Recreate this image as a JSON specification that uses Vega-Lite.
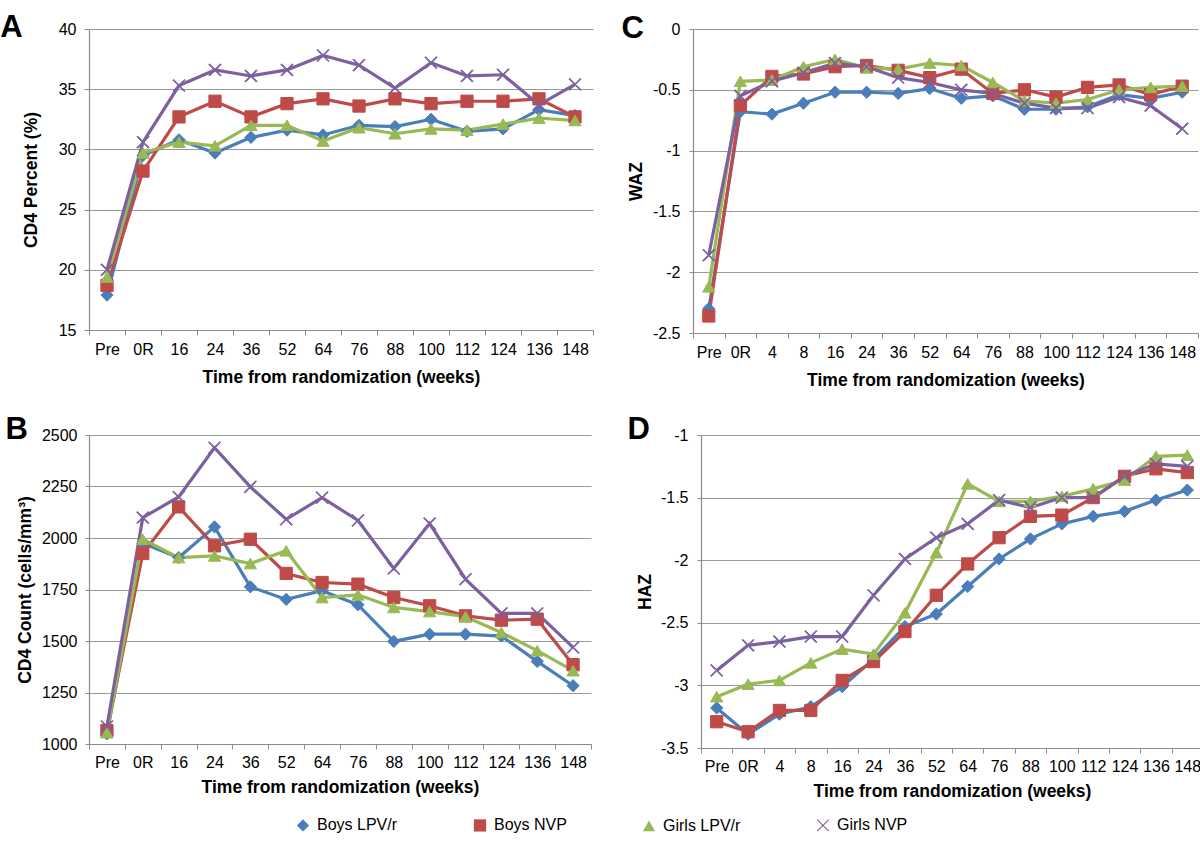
{
  "$schema": "https://vega.github.io/schema/vega-lite/v6.json",
  "padding": {"left": 0, "top": 12, "right": 0, "bottom": 0},
  "datasets": {
    "d": [
      {"p": "A", "t": "Pre", "Boys LPV/r": 17.9, "Boys NVP": 18.7, "Girls LPV/r": 19.4, "Girls NVP": 20.0},
      {"p": "A", "t": "0R", "Boys LPV/r": 29.5, "Boys NVP": 28.2, "Girls LPV/r": 29.7, "Girls NVP": 30.6},
      {"p": "A", "t": "16", "Boys LPV/r": 30.8, "Boys NVP": 32.7, "Girls LPV/r": 30.6, "Girls NVP": 35.3},
      {"p": "A", "t": "24", "Boys LPV/r": 29.7, "Boys NVP": 34.0, "Girls LPV/r": 30.3, "Girls NVP": 36.6},
      {"p": "A", "t": "36", "Boys LPV/r": 31.0, "Boys NVP": 32.7, "Girls LPV/r": 32.0, "Girls NVP": 36.1},
      {"p": "A", "t": "52", "Boys LPV/r": 31.6, "Boys NVP": 33.8, "Girls LPV/r": 32.0, "Girls NVP": 36.6},
      {"p": "A", "t": "64", "Boys LPV/r": 31.2, "Boys NVP": 34.2, "Girls LPV/r": 30.7, "Girls NVP": 37.8},
      {"p": "A", "t": "76", "Boys LPV/r": 32.0, "Boys NVP": 33.6, "Girls LPV/r": 31.8, "Girls NVP": 37.0},
      {"p": "A", "t": "88", "Boys LPV/r": 31.9, "Boys NVP": 34.2, "Girls LPV/r": 31.3, "Girls NVP": 35.1},
      {"p": "A", "t": "100", "Boys LPV/r": 32.5, "Boys NVP": 33.8, "Girls LPV/r": 31.7, "Girls NVP": 37.2},
      {"p": "A", "t": "112", "Boys LPV/r": 31.5, "Boys NVP": 34.0, "Girls LPV/r": 31.6, "Girls NVP": 36.1},
      {"p": "A", "t": "124", "Boys LPV/r": 31.7, "Boys NVP": 34.0, "Girls LPV/r": 32.1, "Girls NVP": 36.2},
      {"p": "A", "t": "136", "Boys LPV/r": 33.3, "Boys NVP": 34.2, "Girls LPV/r": 32.6, "Girls NVP": 33.7},
      {"p": "A", "t": "148", "Boys LPV/r": 32.8, "Boys NVP": 32.7, "Girls LPV/r": 32.4, "Girls NVP": 35.4},

      {"p": "C", "t": "Pre", "Boys LPV/r": -2.3, "Boys NVP": -2.36, "Girls LPV/r": -2.12, "Girls NVP": -1.86},
      {"p": "C", "t": "0R", "Boys LPV/r": -0.68, "Boys NVP": -0.63, "Girls LPV/r": -0.43, "Girls NVP": -0.55},
      {"p": "C", "t": "4", "Boys LPV/r": -0.70, "Boys NVP": -0.39, "Girls LPV/r": -0.42, "Girls NVP": -0.43},
      {"p": "C", "t": "8", "Boys LPV/r": -0.61, "Boys NVP": -0.37, "Girls LPV/r": -0.31, "Girls NVP": -0.36},
      {"p": "C", "t": "16", "Boys LPV/r": -0.52, "Boys NVP": -0.31, "Girls LPV/r": -0.25, "Girls NVP": -0.28},
      {"p": "C", "t": "24", "Boys LPV/r": -0.52, "Boys NVP": -0.30, "Girls LPV/r": -0.32, "Girls NVP": -0.31},
      {"p": "C", "t": "36", "Boys LPV/r": -0.53, "Boys NVP": -0.34, "Girls LPV/r": -0.33, "Girls NVP": -0.40},
      {"p": "C", "t": "52", "Boys LPV/r": -0.49, "Boys NVP": -0.40, "Girls LPV/r": -0.28, "Girls NVP": -0.44},
      {"p": "C", "t": "64", "Boys LPV/r": -0.57, "Boys NVP": -0.33, "Girls LPV/r": -0.30, "Girls NVP": -0.50},
      {"p": "C", "t": "76", "Boys LPV/r": -0.55, "Boys NVP": -0.53, "Girls LPV/r": -0.44, "Girls NVP": -0.53},
      {"p": "C", "t": "88", "Boys LPV/r": -0.66, "Boys NVP": -0.50, "Girls LPV/r": -0.59, "Girls NVP": -0.61},
      {"p": "C", "t": "100", "Boys LPV/r": -0.66, "Boys NVP": -0.56, "Girls LPV/r": -0.61, "Girls NVP": -0.65},
      {"p": "C", "t": "112", "Boys LPV/r": -0.64, "Boys NVP": -0.48, "Girls LPV/r": -0.58, "Girls NVP": -0.65},
      {"p": "C", "t": "124", "Boys LPV/r": -0.54, "Boys NVP": -0.46, "Girls LPV/r": -0.50, "Girls NVP": -0.56},
      {"p": "C", "t": "136", "Boys LPV/r": -0.57, "Boys NVP": -0.54, "Girls LPV/r": -0.48, "Girls NVP": -0.63},
      {"p": "C", "t": "148", "Boys LPV/r": -0.52, "Boys NVP": -0.47, "Girls LPV/r": -0.47, "Girls NVP": -0.82},

      {"p": "B", "t": "Pre", "Boys LPV/r": 1049, "Boys NVP": 1065, "Girls LPV/r": 1055, "Girls NVP": 1085},
      {"p": "B", "t": "0R", "Boys LPV/r": 1975, "Boys NVP": 1925, "Girls LPV/r": 1994, "Girls NVP": 2099},
      {"p": "B", "t": "16", "Boys LPV/r": 1905, "Boys NVP": 2151, "Girls LPV/r": 1905, "Girls NVP": 2199},
      {"p": "B", "t": "24", "Boys LPV/r": 2054, "Boys NVP": 1962, "Girls LPV/r": 1913, "Girls NVP": 2438},
      {"p": "B", "t": "36", "Boys LPV/r": 1763, "Boys NVP": 1994, "Girls LPV/r": 1876, "Girls NVP": 2248},
      {"p": "B", "t": "52", "Boys LPV/r": 1702, "Boys NVP": 1828, "Girls LPV/r": 1938, "Girls NVP": 2091},
      {"p": "B", "t": "64", "Boys LPV/r": 1744, "Boys NVP": 1784, "Girls LPV/r": 1711, "Girls NVP": 2196},
      {"p": "B", "t": "76", "Boys LPV/r": 1676, "Boys NVP": 1776, "Girls LPV/r": 1724, "Girls NVP": 2085},
      {"p": "B", "t": "88", "Boys LPV/r": 1498, "Boys NVP": 1711, "Girls LPV/r": 1663, "Girls NVP": 1852},
      {"p": "B", "t": "100", "Boys LPV/r": 1533, "Boys NVP": 1671, "Girls LPV/r": 1643, "Girls NVP": 2070},
      {"p": "B", "t": "112", "Boys LPV/r": 1533, "Boys NVP": 1622, "Girls LPV/r": 1618, "Girls NVP": 1800},
      {"p": "B", "t": "124", "Boys LPV/r": 1524, "Boys NVP": 1601, "Girls LPV/r": 1541, "Girls NVP": 1634},
      {"p": "B", "t": "136", "Boys LPV/r": 1401, "Boys NVP": 1606, "Girls LPV/r": 1453, "Girls NVP": 1634},
      {"p": "B", "t": "148", "Boys LPV/r": 1283, "Boys NVP": 1385, "Girls LPV/r": 1356, "Girls NVP": 1469},

      {"p": "D", "t": "Pre", "Boys LPV/r": -3.18, "Boys NVP": -3.29, "Girls LPV/r": -3.09, "Girls NVP": -2.88},
      {"p": "D", "t": "0R", "Boys LPV/r": -3.39, "Boys NVP": -3.37, "Girls LPV/r": -2.99, "Girls NVP": -2.68},
      {"p": "D", "t": "4", "Boys LPV/r": -3.23, "Boys NVP": -3.20, "Girls LPV/r": -2.96, "Girls NVP": -2.65},
      {"p": "D", "t": "8", "Boys LPV/r": -3.17, "Boys NVP": -3.20, "Girls LPV/r": -2.82, "Girls NVP": -2.61},
      {"p": "D", "t": "16", "Boys LPV/r": -3.01, "Boys NVP": -2.96, "Girls LPV/r": -2.71, "Girls NVP": -2.61},
      {"p": "D", "t": "24", "Boys LPV/r": -2.79, "Boys NVP": -2.81, "Girls LPV/r": -2.75, "Girls NVP": -2.28},
      {"p": "D", "t": "36", "Boys LPV/r": -2.53, "Boys NVP": -2.57, "Girls LPV/r": -2.42, "Girls NVP": -1.99},
      {"p": "D", "t": "52", "Boys LPV/r": -2.43, "Boys NVP": -2.28, "Girls LPV/r": -1.94, "Girls NVP": -1.82},
      {"p": "D", "t": "64", "Boys LPV/r": -2.21, "Boys NVP": -2.03, "Girls LPV/r": -1.39, "Girls NVP": -1.71},
      {"p": "D", "t": "76", "Boys LPV/r": -1.99, "Boys NVP": -1.82, "Girls LPV/r": -1.53, "Girls NVP": -1.52},
      {"p": "D", "t": "88", "Boys LPV/r": -1.83, "Boys NVP": -1.65, "Girls LPV/r": -1.53, "Girls NVP": -1.58},
      {"p": "D", "t": "100", "Boys LPV/r": -1.71, "Boys NVP": -1.64, "Girls LPV/r": -1.49, "Girls NVP": -1.50},
      {"p": "D", "t": "112", "Boys LPV/r": -1.65, "Boys NVP": -1.50, "Girls LPV/r": -1.43, "Girls NVP": -1.50},
      {"p": "D", "t": "124", "Boys LPV/r": -1.61, "Boys NVP": -1.33, "Girls LPV/r": -1.36, "Girls NVP": -1.33},
      {"p": "D", "t": "136", "Boys LPV/r": -1.52, "Boys NVP": -1.27, "Girls LPV/r": -1.17, "Girls NVP": -1.23},
      {"p": "D", "t": "148", "Boys LPV/r": -1.44, "Boys NVP": -1.30, "Girls LPV/r": -1.16, "Girls NVP": -1.25}
    ]
  },
  "data": {"name": "d"},
  "spacing": 25,
  "vconcat": [
    {
      "spacing": 27,
      "hconcat": [
        {
          "width": 504, "height": 301,
          "title": {"text": "A", "dx": -22, "offset": -23},
          "transform": [
            {"filter": "datum.p === 'A'"},
            {"fold": ["Boys LPV/r", "Boys NVP", "Girls LPV/r", "Girls NVP"], "as": ["s", "v"]}
          ],
          "encoding": {
            "x": {"field": "t", "type": "ordinal", "sort": ["Pre", "0R", "16", "24", "36", "52", "64", "76", "88", "100", "112", "124", "136", "148"],
                  "scale": {"type": "band", "paddingInner": 0, "paddingOuter": 0}, "bandPosition": 0.5,
                  "axis": {"title": "Time from randomization (weeks)", "titlePadding": 11, "labelPadding": 6}},
            "y": {"field": "v", "type": "quantitative", "scale": {"domain": [15, 40], "nice": false, "zero": false},
                  "axis": {"title": "CD4 Percent (%)", "values": [15, 20, 25, 30, 35, 40], "titlePadding": 18, "labelPadding": 8}}
          },
          "layer": [
            {"mark": {"type": "line", "strokeWidth": 3.2}, "encoding": {"stroke": {"field": "s", "type": "nominal", "legend": null}, "order": {"value": null}}},
            {"mark": {"type": "point", "filled": true, "opacity": 1, "size": 150, "strokeWidth": 1},
             "encoding": {"fill": {"field": "s", "type": "nominal", "legend": null}, "stroke": {"field": "s", "type": "nominal", "legend": null}, "shape": {"field": "s", "type": "nominal", "legend": {}}}}
          ]
        },
        {
          "width": 505, "height": 304,
          "title": {"text": "C", "dx": -6, "offset": -24},
          "transform": [
            {"filter": "datum.p === 'C'"},
            {"fold": ["Boys LPV/r", "Boys NVP", "Girls LPV/r", "Girls NVP"], "as": ["s", "v"]}
          ],
          "encoding": {
            "x": {"field": "t", "type": "ordinal", "sort": ["Pre", "0R", "4", "8", "16", "24", "36", "52", "64", "76", "88", "100", "112", "124", "136", "148"],
                  "scale": {"type": "band", "paddingInner": 0, "paddingOuter": 0}, "bandPosition": 0.5,
                  "axis": {"title": "Time from randomization (weeks)", "titlePadding": 11, "labelPadding": 6}},
            "y": {"field": "v", "type": "quantitative", "scale": {"domain": [-2.5, 0], "nice": false, "zero": false},
                  "axis": {"title": "WAZ", "values": [-2.5, -2, -1.5, -1, -0.5, 0], "titlePadding": 7, "labelPadding": 9, "tickSize": 4}}
          },
          "layer": [
            {"mark": {"type": "line", "strokeWidth": 3.2}, "encoding": {"stroke": {"field": "s", "type": "nominal", "legend": null}, "order": {"value": null}}},
            {"mark": {"type": "point", "filled": true, "opacity": 1, "size": 150, "strokeWidth": 1},
             "encoding": {"fill": {"field": "s", "type": "nominal", "legend": null}, "stroke": {"field": "s", "type": "nominal", "legend": null}, "shape": {"field": "s", "type": "nominal"}}}
          ]
        }
      ]
    },
    {
      "spacing": 35,
      "hconcat": [
        {
          "width": 502, "height": 309,
          "title": {"text": "B", "dx": -11, "offset": -19},
          "transform": [
            {"filter": "datum.p === 'B'"},
            {"fold": ["Boys LPV/r", "Boys NVP", "Girls LPV/r", "Girls NVP"], "as": ["s", "v"]}
          ],
          "encoding": {
            "x": {"field": "t", "type": "ordinal", "sort": ["Pre", "0R", "16", "24", "36", "52", "64", "76", "88", "100", "112", "124", "136", "148"],
                  "scale": {"type": "band", "paddingInner": 0, "paddingOuter": 0}, "bandPosition": 0.5,
                  "axis": {"title": "Time from randomization (weeks)", "titlePadding": 8, "labelPadding": 5}},
            "y": {"field": "v", "type": "quantitative", "scale": {"domain": [1000, 2500], "nice": false, "zero": false},
                  "axis": {"title": "CD4 Count (cells/mm³)", "values": [1000, 1250, 1500, 1750, 2000, 2250, 2500], "titlePadding": 7, "labelPadding": 8, "tickSize": 4}}
          },
          "layer": [
            {"mark": {"type": "line", "strokeWidth": 3.2}, "encoding": {"stroke": {"field": "s", "type": "nominal", "legend": null}, "order": {"value": null}}},
            {"mark": {"type": "point", "filled": true, "opacity": 1, "size": 150, "strokeWidth": 1},
             "encoding": {"fill": {"field": "s", "type": "nominal", "legend": null}, "stroke": {"field": "s", "type": "nominal", "legend": null}, "shape": {"field": "s", "type": "nominal"}}}
          ]
        },
        {
          "width": 502, "height": 313,
          "title": {"text": "D", "dx": -9, "offset": -19},
          "transform": [
            {"filter": "datum.p === 'D'"},
            {"fold": ["Boys LPV/r", "Boys NVP", "Girls LPV/r", "Girls NVP"], "as": ["s", "v"]}
          ],
          "encoding": {
            "x": {"field": "t", "type": "ordinal", "sort": ["Pre", "0R", "4", "8", "16", "24", "36", "52", "64", "76", "88", "100", "112", "124", "136", "148"],
                  "scale": {"type": "band", "paddingInner": 0, "paddingOuter": 0}, "bandPosition": 0.5,
                  "axis": {"title": "Time from randomization (weeks)", "titlePadding": 8, "labelPadding": 5}},
            "y": {"field": "v", "type": "quantitative", "scale": {"domain": [-3.5, -1], "nice": false, "zero": false},
                  "axis": {"title": "HAZ", "values": [-3.5, -3, -2.5, -2, -1.5, -1], "titlePadding": 6, "labelPadding": 9, "tickSize": 4}}
          },
          "layer": [
            {"mark": {"type": "line", "strokeWidth": 3.2}, "encoding": {"stroke": {"field": "s", "type": "nominal", "legend": null}, "order": {"value": null}}},
            {"mark": {"type": "point", "filled": true, "opacity": 1, "size": 150, "strokeWidth": 1},
             "encoding": {"fill": {"field": "s", "type": "nominal", "legend": null}, "stroke": {"field": "s", "type": "nominal", "legend": null}, "shape": {"field": "s", "type": "nominal"}}}
          ]
        }
      ]
    }
  ],
  "resolve": {"scale": {"fill": "shared", "stroke": "shared", "shape": "shared"}},
  "config": {
    "font": "Liberation Sans",
    "view": {"stroke": null},
    "range": {
      "category": ["#4A7EBB", "#BE4B48", "#98B954", "#7D60A0"],
      "symbol": ["diamond", "square", "triangle-up", "M-1,-0.88L-0.88,-1L0,-0.12L0.88,-1L1,-0.88L0.12,0L1,0.88L0.88,1L0,0.12L-0.88,1L-1,0.88L-0.12,0Z"]
    },
    "title": {"fontSize": 31, "fontWeight": "bold", "font": "Liberation Sans", "anchor": "start", "frame": "bounds", "orient": "top", "baseline": "alphabetic", "color": "#000"},
    "axis": {
      "labelFont": "Liberation Sans", "labelFontSize": 16, "labelColor": "#000",
      "titleFont": "Liberation Sans", "titleFontSize": 17.5, "titleFontWeight": "bold", "titleColor": "#000",
      "domainColor": "#8c8c8c", "tickColor": "#8c8c8c", "gridColor": "#9a9a9a", "gridOpacity": 1, "domainWidth": 1.2
    },
    "axisX": {"grid": false, "tickSize": 5, "labelAngle": 0, "tickBand": "extent"},
    "axisY": {"tickSize": 5, "grid": true, "domain": true, "labelExpr": "'' + datum.value"},
    "legend": {
      "orient": "bottom", "direction": "horizontal", "title": null,
      "labelFont": "Liberation Sans", "labelFontSize": 16, "labelColor": "#000",
      "symbolSize": 150, "labelOffset": 6,
      "columnPadding": 72, "offset": 17,
      "layout": {"bottom": {"anchor": "middle"}}
    }
  }
}
